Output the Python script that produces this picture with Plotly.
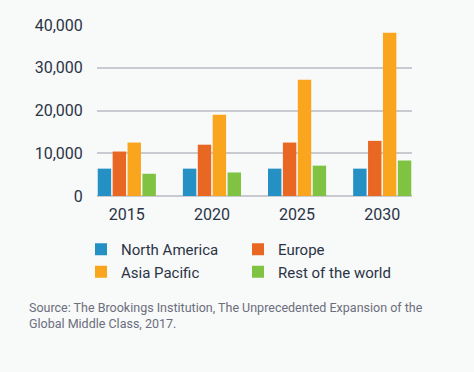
import plotly.graph_objects as go

years = ["2015", "2020", "2025", "2030"]
north_america = [6400, 6400, 6400, 6400]
europe = [10400, 12000, 12500, 12900]
asia_pacific = [12500, 19000, 27200, 38200]
rest_of_world = [5200, 5500, 7100, 8300]

series = [
    ("North America", north_america, "#2590c4"),
    ("Europe", europe, "#e86722"),
    ("Asia Pacific", asia_pacific, "#f9a61e"),
    ("Rest of the world", rest_of_world, "#80c242"),
]

y_ticks = [0, 10000, 20000, 30000, 40000]
y_tick_labels = ["0", "10,000", "20,000", "30,000", "40,000"]

text_color = "#2b3445"
bg = "#f8f9f9"
font_family = "Roboto, Lato, sans-serif"

L, R, T, B = 97, 62, 25, 176
PW, PH = 474 - L - R, 372 - T - B

fig = go.Figure()
for name, vals, col in series:
    fig.add_trace(go.Bar(x=years, y=vals, name=name, marker=dict(color=col, line=dict(width=0))))

fig.update_layout(
    width=474, height=372,
    paper_bgcolor=bg, plot_bgcolor=bg,
    margin=dict(l=L, r=R, t=T, b=B),
    barmode="group", bargap=0.30, bargroupgap=0.1,
    font=dict(family=font_family, color=text_color, size=16),
    xaxis=dict(
        type="category", range=[-0.35, 3.35], showgrid=False, showline=False, zeroline=False,
        ticks="outside", ticklen=4, tickcolor=bg, tickfont=dict(size=16, color=text_color),
    ),
    yaxis=dict(
        range=[0, 40000], tickvals=y_ticks, ticktext=y_tick_labels,
        showgrid=True, gridcolor="#c8cad0", gridwidth=1.5,
        zeroline=True, zerolinecolor="#c8cad0", zerolinewidth=1.5,
        showline=False, ticks="outside", ticklen=10, tickcolor=bg,
        tickfont=dict(size=16, color=text_color),
    ),
    legend=dict(
        orientation="h", xref="paper", yref="paper",
        x=(81 - L) / PW, y=-(233 - (T + PH)) / PH, xanchor="left", yanchor="top",
        entrywidth=112, entrywidthmode="pixels",
        font=dict(size=15, color=text_color), bgcolor="rgba(0,0,0,0)",
        traceorder="normal", itemclick=False,
    ),
    annotations=[dict(
        text="Source: The Brookings Institution, The Unprecedented Expansion of the<br>Global Middle Class, 2017.",
        xref="paper", yref="paper", x=(27 - L) / PW, y=-(298 - (T + PH)) / PH,
        xanchor="left", yanchor="top", align="left", showarrow=False,
        font=dict(size=12.5, color="#6b6e7c", family=font_family),
    )],
)

fig.write_html(
    "out.html",
    config={"displayModeBar": False},
    post_script="document.documentElement.style.margin='0';document.body.style.margin='0';"
                "document.body.style.background='#f8f9f9';",
)
